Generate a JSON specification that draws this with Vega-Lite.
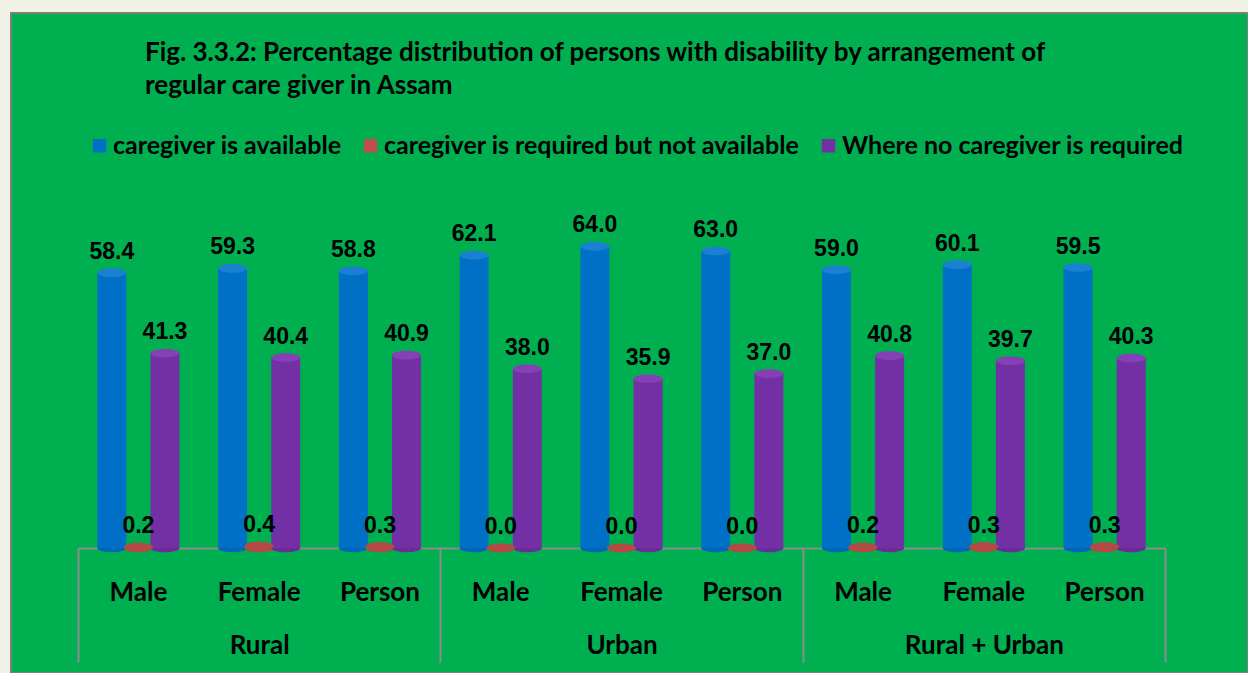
{
  "$schema": "https://vega.github.io/schema/vega-lite/v6.json",
  "autosize": {"type": "none"},
  "width": 1237,
  "height": 660,
  "padding": {"left": 11, "top": 13, "right": 0, "bottom": 0},
  "background": "#f1f2e6",
  "config": {
    "view": {"fill": "#00b050", "stroke": "#808080", "strokeWidth": 2},
    "font": "Lato"
  },
  "title": {
    "text": ["Fig. 3.3.2: Percentage distribution of persons with disability by   arrangement of", "regular care giver  in Assam"],
    "anchor": "start",
    "frame": "group",
    "orient": "top",
    "baseline": "top",
    "offset": 0,
    "dx": 134,
    "dy": 86,
    "font": "Lato",
    "fontSize": 26,
    "fontWeight": "bold",
    "color": "#000000",
    "lineHeight": 33
  },
  "data": {
    "values": [
      {"area": "Rural", "cat": "Rural|Male", "series": "caregiver is available", "value": 58.4},
      {"area": "Rural", "cat": "Rural|Male", "series": "caregiver is required but not available", "value": 0.2},
      {"area": "Rural", "cat": "Rural|Male", "series": "Where no caregiver is required", "value": 41.3},
      {"area": "Rural", "cat": "Rural|Female", "series": "caregiver is available", "value": 59.3},
      {"area": "Rural", "cat": "Rural|Female", "series": "caregiver is required but not available", "value": 0.4},
      {"area": "Rural", "cat": "Rural|Female", "series": "Where no caregiver is required", "value": 40.4},
      {"area": "Rural", "cat": "Rural|Person", "series": "caregiver is available", "value": 58.8},
      {"area": "Rural", "cat": "Rural|Person", "series": "caregiver is required but not available", "value": 0.3},
      {"area": "Rural", "cat": "Rural|Person", "series": "Where no caregiver is required", "value": 40.9},
      {"area": "Urban", "cat": "Urban|Male", "series": "caregiver is available", "value": 62.1},
      {"area": "Urban", "cat": "Urban|Male", "series": "caregiver is required but not available", "value": 0.0},
      {"area": "Urban", "cat": "Urban|Male", "series": "Where no caregiver is required", "value": 38.0},
      {"area": "Urban", "cat": "Urban|Female", "series": "caregiver is available", "value": 64.0},
      {"area": "Urban", "cat": "Urban|Female", "series": "caregiver is required but not available", "value": 0.0},
      {"area": "Urban", "cat": "Urban|Female", "series": "Where no caregiver is required", "value": 35.9},
      {"area": "Urban", "cat": "Urban|Person", "series": "caregiver is available", "value": 63.0},
      {"area": "Urban", "cat": "Urban|Person", "series": "caregiver is required but not available", "value": 0.0},
      {"area": "Urban", "cat": "Urban|Person", "series": "Where no caregiver is required", "value": 37.0},
      {"area": "Rural + Urban", "cat": "Total|Male", "series": "caregiver is available", "value": 59.0},
      {"area": "Rural + Urban", "cat": "Total|Male", "series": "caregiver is required but not available", "value": 0.2},
      {"area": "Rural + Urban", "cat": "Total|Male", "series": "Where no caregiver is required", "value": 40.8},
      {"area": "Rural + Urban", "cat": "Total|Female", "series": "caregiver is available", "value": 60.1},
      {"area": "Rural + Urban", "cat": "Total|Female", "series": "caregiver is required but not available", "value": 0.3},
      {"area": "Rural + Urban", "cat": "Total|Female", "series": "Where no caregiver is required", "value": 39.7},
      {"area": "Rural + Urban", "cat": "Total|Person", "series": "caregiver is available", "value": 59.5},
      {"area": "Rural + Urban", "cat": "Total|Person", "series": "caregiver is required but not available", "value": 0.3},
      {"area": "Rural + Urban", "cat": "Total|Person", "series": "Where no caregiver is required", "value": 40.3}
    ]
  },
  "layer": [
    {
      "encoding": {
        "x": {
          "field": "cat",
          "type": "nominal",
          "sort": null,
          "scale": {"range": [67, 1154], "paddingInner": 0.34, "paddingOuter": 0.17},
          "axis": {
            "title": null,
            "orient": "bottom",
            "offset": -125,
            "labelExpr": "split(datum.label, '|')[1]",
            "labelAngle": 0,
            "labelFont": "Lato",
            "labelFontSize": 26,
            "labelFontWeight": "bold",
            "labelColor": "#000000",
            "labelPadding": 31,
            "ticks": false,
            "domainColor": "#8c8c8c",
            "domainWidth": 2
          }
        },
        "xOffset": {
          "field": "series",
          "type": "nominal",
          "sort": null,
          "scale": {"paddingInner": 0, "paddingOuter": 0}
        },
        "y": {
          "field": "value",
          "type": "quantitative",
          "scale": {"domain": [0, 70], "range": [535, 205], "nice": false, "zero": true},
          "axis": null
        }
      },
      "layer": [
        {
          "mark": {"type": "point", "filled": true, "opacity": 1, "xOffset": 10, "size": 841, "shape": "M-1,0 A1,0.3 0 1,1 1,0 A1,0.3 0 1,1 -1,0 Z"},
          "encoding": {
            "y": {"datum": 0, "type": "quantitative"},
            "color": {
              "field": "series",
              "type": "nominal",
              "sort": null,
              "scale": {
                "domain": ["caregiver is available", "caregiver is required but not available", "Where no caregiver is required"],
                "range": ["#0066b8", "#b34a46", "#6a2c99"]
              },
              "legend": null
            }
          }
        },
        {
          "mark": {"type": "bar", "xOffset": 10, "width": 29},
          "encoding": {
            "color": {
              "field": "series",
              "type": "nominal",
              "sort": null,
              "scale": {
                "domain": ["caregiver is available", "caregiver is required but not available", "Where no caregiver is required"],
                "range": ["#0070c6", "#c0504d", "#7330a4"]
              },
              "legend": {
                "title": null,
                "orient": "none",
                "legendX": 76,
                "legendY": 120,
                "direction": "horizontal",
                "columns": 3,
                "columnPadding": 16,
                "padding": 0,
                "symbolType": "square",
                "symbolSize": 180,
                "symbolStrokeWidth": 0,
                "symbolOpacity": 1,
                "labelFont": "Lato",
                "labelFontSize": 25,
                "labelFontWeight": "bold",
                "labelColor": "#000000",
                "labelOffset": 1,
                "labelLimit": 0
              }
            }
          }
        },
        {
          "mark": {"type": "point", "filled": true, "opacity": 1, "xOffset": 10, "size": 841, "shape": "M-1,0 A1,0.3 0 1,1 1,0 A1,0.3 0 1,1 -1,0 Z"},
          "encoding": {
            "color": {
              "field": "series",
              "type": "nominal",
              "sort": null,
              "scale": {
                "domain": ["caregiver is available", "caregiver is required but not available", "Where no caregiver is required"],
                "range": ["#1a80d2", "#b34a46", "#8440b4"]
              },
              "legend": null
            }
          }
        },
        {
          "mark": {
            "type": "text",
            "font": "Liberation Sans",
            "fontSize": 23,
            "fontWeight": "bold",
            "color": "#000000",
            "baseline": "alphabetic",
            "dy": -14
          },
          "encoding": {
            "text": {"field": "value", "type": "quantitative", "format": ".1f"}
          }
        }
      ],
      "resolve": {"scale": {"color": "independent"}, "legend": {"color": "independent"}}
    },
    {
      "mark": {"type": "bar", "opacity": 0},
      "encoding": {
        "x": {
          "field": "area",
          "type": "nominal",
          "sort": null,
          "scale": {"range": [67, 1154], "paddingInner": 0, "paddingOuter": 0},
          "axis": {
            "title": null,
            "orient": "bottom",
            "offset": -125,
            "labelAngle": 0,
            "labelFont": "Lato",
            "labelFontSize": 26,
            "labelFontWeight": "bold",
            "labelColor": "#000000",
            "labelPadding": -30,
            "domain": false,
            "ticks": true,
            "tickBand": "extent",
            "tickSize": 114,
            "tickColor": "#8c8c8c",
            "tickWidth": 2
          }
        }
      }
    }
  ],
  "resolve": {"scale": {"x": "independent"}, "axis": {"x": "independent"}}
}
